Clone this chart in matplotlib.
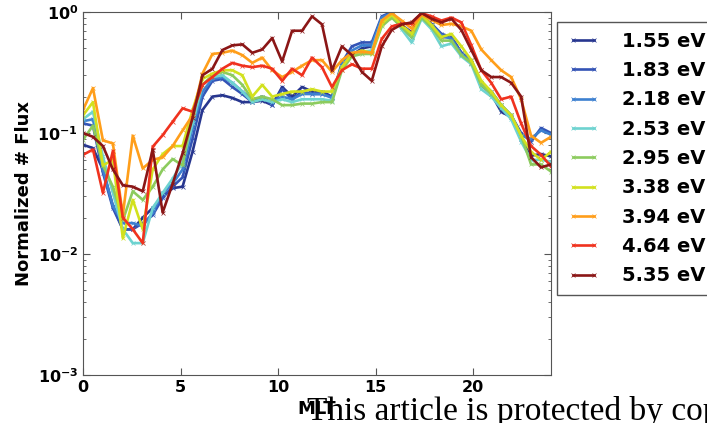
import numpy as np
import matplotlib
matplotlib.use("Agg")
import matplotlib.pyplot as plt
from matplotlib.ticker import LogLocator, NullFormatter

# MLT grid (48 bins spanning 0-24)
mlt = np.linspace(0, 24, 48)

labels = ["1.55 eV", "1.83 eV", "2.18 eV", "2.53 eV", "2.95 eV",
          "3.38 eV", "3.94 eV", "4.64 eV", "5.35 eV"]
colors = ["#27368F", "#3353B5", "#3D80D0", "#6ED3D0", "#8CCB5E",
          "#D2E11E", "#FF9E1A", "#F0321E", "#8B1616"]

flux_155 = [0.080, 0.075, 0.050, 0.025, 0.016, 0.016, 0.020, 0.024, 0.030, 0.035, 0.036, 0.070,
            0.155, 0.20, 0.205, 0.195, 0.18, 0.18, 0.185, 0.17, 0.24, 0.20, 0.24, 0.22,
            0.22, 0.20, 0.36, 0.44, 0.50, 0.52, 0.88, 0.97, 0.78, 0.68, 0.92, 0.78,
            0.62, 0.62, 0.46, 0.38, 0.25, 0.21, 0.15, 0.135, 0.09, 0.065, 0.067, 0.064]
flux_183 = [0.12, 0.115, 0.047, 0.024, 0.016, 0.016, 0.018, 0.021, 0.029, 0.036, 0.043, 0.090,
            0.20, 0.27, 0.28, 0.24, 0.21, 0.18, 0.20, 0.17, 0.23, 0.19, 0.22, 0.21,
            0.21, 0.20, 0.38, 0.52, 0.56, 0.56, 0.92, 1.00, 0.78, 0.65, 0.92, 0.80,
            0.66, 0.62, 0.46, 0.40, 0.26, 0.22, 0.17, 0.14, 0.10, 0.085, 0.11, 0.10]
flux_218 = [0.125, 0.13, 0.050, 0.025, 0.018, 0.018, 0.017, 0.022, 0.032, 0.038, 0.050, 0.11,
            0.22, 0.28, 0.29, 0.26, 0.22, 0.19, 0.19, 0.18, 0.20, 0.19, 0.21, 0.21,
            0.21, 0.195, 0.37, 0.48, 0.53, 0.53, 0.90, 0.98, 0.76, 0.62, 0.90, 0.78,
            0.64, 0.60, 0.45, 0.39, 0.26, 0.22, 0.17, 0.14, 0.095, 0.09, 0.105, 0.097]
flux_253 = [0.13, 0.15, 0.064, 0.032, 0.016, 0.0123, 0.0123, 0.024, 0.032, 0.042, 0.057, 0.12,
            0.25, 0.29, 0.30, 0.26, 0.22, 0.18, 0.19, 0.18, 0.19, 0.18, 0.19, 0.19,
            0.19, 0.185, 0.35, 0.45, 0.47, 0.48, 0.85, 0.95, 0.72, 0.56, 0.88, 0.72,
            0.52, 0.55, 0.43, 0.37, 0.23, 0.20, 0.16, 0.13, 0.085, 0.060, 0.060, 0.058]
flux_295 = [0.088, 0.115, 0.054, 0.036, 0.019, 0.033, 0.028, 0.036, 0.050, 0.061, 0.054, 0.147,
            0.25, 0.30, 0.32, 0.30, 0.25, 0.19, 0.20, 0.19, 0.17, 0.17, 0.175, 0.175,
            0.18, 0.18, 0.33, 0.43, 0.45, 0.45, 0.76, 0.90, 0.75, 0.62, 0.90, 0.75,
            0.58, 0.58, 0.44, 0.38, 0.25, 0.21, 0.17, 0.14, 0.095, 0.055, 0.055, 0.048]
flux_338 = [0.14, 0.18, 0.054, 0.060, 0.0135, 0.028, 0.016, 0.050, 0.067, 0.078, 0.078, 0.155,
            0.28, 0.31, 0.33, 0.33, 0.30, 0.20, 0.25, 0.20, 0.21, 0.22, 0.22, 0.23,
            0.22, 0.22, 0.35, 0.45, 0.48, 0.46, 0.80, 0.95, 0.78, 0.66, 0.95, 0.78,
            0.62, 0.66, 0.52, 0.40, 0.27, 0.22, 0.17, 0.14, 0.095, 0.070, 0.060, 0.070]
flux_394 = [0.155, 0.235, 0.087, 0.082, 0.021, 0.095, 0.051, 0.060, 0.063, 0.078, 0.105, 0.14,
            0.31, 0.45, 0.46, 0.48, 0.44, 0.38, 0.42, 0.33, 0.29, 0.32, 0.36, 0.40,
            0.40, 0.32, 0.40, 0.46, 0.47, 0.46, 0.85, 0.98, 0.85, 0.73, 0.95, 0.86,
            0.78, 0.80, 0.76, 0.70, 0.49, 0.40, 0.33, 0.29, 0.19, 0.095, 0.083, 0.093]
flux_464 = [0.066, 0.073, 0.032, 0.071, 0.020, 0.016, 0.0123, 0.077, 0.096, 0.124, 0.16, 0.15,
            0.25, 0.29, 0.34, 0.38, 0.36, 0.35, 0.36, 0.34, 0.27, 0.34, 0.30, 0.42,
            0.35, 0.24, 0.33, 0.37, 0.34, 0.34, 0.60, 0.76, 0.80, 0.80, 0.98, 0.92,
            0.85, 0.90, 0.82, 0.53, 0.33, 0.26, 0.19, 0.20, 0.12, 0.078, 0.066, 0.053]
flux_535 = [0.10, 0.093, 0.078, 0.050, 0.037, 0.036, 0.033, 0.073, 0.022, 0.038, 0.068, 0.133,
            0.30, 0.34, 0.485, 0.53, 0.54, 0.46, 0.49, 0.61, 0.39, 0.70, 0.70, 0.92,
            0.79, 0.33, 0.52, 0.44, 0.32, 0.27, 0.52, 0.71, 0.79, 0.82, 0.98, 0.88,
            0.82, 0.88, 0.71, 0.485, 0.33, 0.29, 0.29, 0.26, 0.20, 0.063, 0.052, 0.055]

series = [flux_155, flux_183, flux_218, flux_253, flux_295,
          flux_338, flux_394, flux_464, flux_535]

plt.rcParams["font.family"] = ["DejaVu Sans"]
plt.rcParams["font.weight"] = "bold"
plt.rcParams["mathtext.default"] = "bf"

fig = plt.figure(figsize=(7.07, 4.23), dpi=100)
ax = fig.add_axes([83 / 707, (423 - 375) / 423, 468 / 707, 363 / 423])

for vals, lab, col in zip(series, labels, colors):
    ax.plot(mlt, vals, color=col, lw=1.9, marker="x", ms=2.5, mew=0.5, label=lab)

ax.set_yscale("log")
ax.set_ylim(1e-3, 1)
ax.set_xlim(0, 24)
ax.set_xticks([0, 5, 10, 15, 20])
ax.yaxis.set_minor_locator(LogLocator(base=10, subs=np.arange(2, 10)))
ax.yaxis.set_minor_formatter(NullFormatter())
ax.tick_params(which="both", direction="in", top=True, right=True,
               labelsize=11.5, color="#555555")
ax.tick_params(which="major", length=5)
ax.tick_params(which="minor", length=2.5)
for lbl in ax.get_xticklabels() + ax.get_yticklabels():
    lbl.set_fontweight("bold")
for sp in ax.spines.values():
    sp.set_color("#555555")

ax.set_ylabel("Normalized # Flux", fontsize=13, fontweight="bold")
ax.yaxis.set_label_coords(-0.107, 0.5)
ax.set_xlabel("MLT", fontsize=13, fontweight="bold", labelpad=4)

leg = ax.legend(loc="upper left", bbox_to_anchor=(1.013, 0.972),
                prop={"weight": "bold", "size": 14}, numpoints=2,
                handlelength=1.7, handletextpad=1.15, labelspacing=0.53,
                borderpad=0.5, borderaxespad=0.0, fancybox=False, framealpha=1)
leg.get_frame().set_edgecolor("#555555")
leg.get_frame().set_linewidth(1.0)

fig.text(307 / 707, 3 / 423, "This article is protected by copyright. All rights reserved.",
         fontfamily="Liberation Serif", fontsize=24, fontweight="normal",
         va="baseline", ha="left", color="black")

fig.savefig("out.png", dpi=100)
